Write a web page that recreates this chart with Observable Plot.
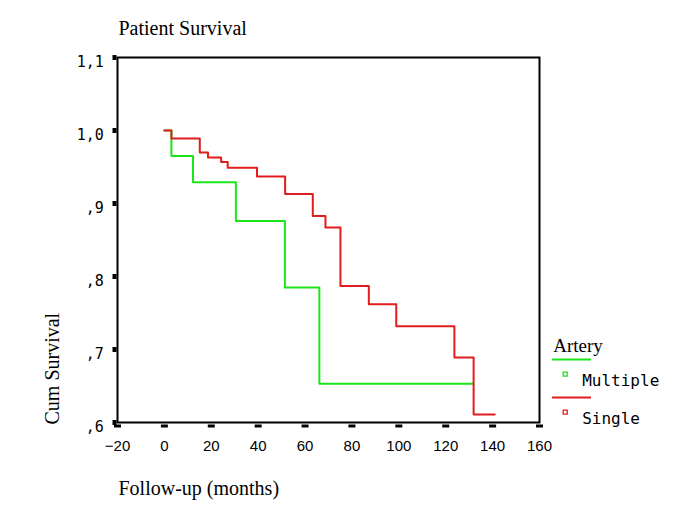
<!DOCTYPE html>
<html><head><meta charset="utf-8">
<script src="https://cdn.jsdelivr.net/npm/d3@7"></script>
<script src="https://cdn.jsdelivr.net/npm/@observablehq/plot@0.6"></script>
<style>body{margin:0;background:#fff}</style>
</head><body><div id="chart"></div>
<script>
// Data
const multipleTime = [0, 3, 12.2, 30.5, 51.4, 66.1, 131.7];
const multipleSurv = [1.0, 0.965, 0.929, 0.876, 0.785, 0.653, 0.653];
const singleTime = [0, 3, 15.1, 18.6, 24.2, 27.0, 39.5, 51.5, 63.3, 68.7, 75.1, 87.2, 98.9, 123.7, 131.9, 140.9];
const singleSurv = [1.0, 0.989, 0.970, 0.963, 0.957, 0.949, 0.937, 0.913, 0.883, 0.867, 0.787, 0.762, 0.732, 0.689, 0.611, 0.611];
const seriesNames = ["Multiple", "Single"];
const seriesColors = ["#18e618", "#e01c1c"];
const xTicks = [-20, 0, 20, 40, 60, 80, 100, 120, 140, 160];
const xTickLabels = ["\u221220", "0", "20", "40", "60", "80", "100", "120", "140", "160"];
const yTicks = [0.6, 0.7, 0.8, 0.9, 1.0, 1.1];
const yTickLabels = [",6", ",7", ",8", ",9", "1,0", "1,1"];
const titleText = "Patient Survival";
const xTitle = "Follow-up (months)";
const yTitle = "Cum Survival";
const legendTitle = "Artery";

const series = [
  multipleTime.map((t, i) => ({t, s: multipleSurv[i], series: seriesNames[0]})),
  singleTime.map((t, i) => ({t, s: singleSurv[i], series: seriesNames[1]}))
];

const xDash = {draw(ctx) { ctx.rect(-3.5, -1.5, 7, 3); }};
const ySquare = {draw(ctx) { ctx.rect(-2, -2.5, 4, 5); }};
const legendLine = {draw(ctx) { ctx.moveTo(-19.5, 0); ctx.lineTo(19.5, 0); }};
const legendSquare = {draw(ctx) { ctx.rect(-2, -2, 4, 4); }};

const serif = "Liberation Serif, Times New Roman, serif";
const mono = "DejaVu Sans Mono, monospace";
const sans = "Liberation Sans, Arial, sans-serif";

const legendMarks = seriesNames.flatMap((name, i) => [
  Plot.dot([name], {frameAnchor: "bottom-right", dx: 32, dy: -63 + i * 38, symbol: legendLine, stroke: seriesColors[i], strokeWidth: 2, fill: "none"}),
  Plot.dot([name], {frameAnchor: "bottom-right", dx: 25.7, dy: -48.3 + i * 38, symbol: legendSquare, stroke: seriesColors[i], strokeWidth: 1.3, fill: "white"}),
  Plot.text([name], {frameAnchor: "bottom-right", text: d => d, dx: 42.7, dy: -36.3 + i * 37.5, textAnchor: "start", lineAnchor: "bottom", fontFamily: mono, fontSize: 16, fill: "black"})
]);

const chart = Plot.plot({
  width: 685,
  height: 513,
  marginLeft: 117,
  marginRight: 146,
  marginTop: 57,
  marginBottom: 91,
  x: {domain: [-20, 160], axis: null},
  y: {domain: [0.6, 1.1], axis: null},
  style: {background: "white"},
  marks: [
    Plot.frame({stroke: "black", strokeWidth: 2}),
    ...series.map((data, i) => Plot.line(data, {x: "t", y: "s", curve: "step-after", stroke: seriesColors[i], strokeWidth: 2})),
    Plot.dot(xTicks, {x: d => d, frameAnchor: "bottom", dy: 3.5, symbol: xDash, fill: "black", stroke: "none"}),
    Plot.text(xTicks, {x: d => d, text: (d, i) => xTickLabels[i], frameAnchor: "bottom", dy: 28.7, lineAnchor: "bottom", fontFamily: sans, fontSize: 15, fill: "black"}),
    Plot.dot(yTicks, {y: d => d, frameAnchor: "left", dx: -3, symbol: ySquare, fill: "black", stroke: "none"}),
    Plot.text(yTicks, {y: d => d, text: (d, i) => yTickLabels[i], frameAnchor: "left", dx: -13.7, dy: 4.5, textAnchor: "end", fontFamily: mono, fontSize: 15, fill: "black"}),
    Plot.text([titleText], {frameAnchor: "top-left", text: d => d, dx: 1, dy: -23, textAnchor: "start", lineAnchor: "bottom", fontFamily: serif, fontSize: 20, fill: "black"}),
    Plot.text([xTitle], {frameAnchor: "bottom-left", text: d => d, dx: 1, dy: 72, textAnchor: "start", lineAnchor: "bottom", fontFamily: serif, fontSize: 20, fill: "black"}),
    Plot.text([yTitle], {frameAnchor: "bottom-left", text: d => d, dx: -58.5, dy: 2, rotate: -90, textAnchor: "start", lineAnchor: "bottom", fontFamily: serif, fontSize: 20, fill: "black"}),
    Plot.text([legendTitle], {frameAnchor: "bottom-right", text: d => d, dx: 13.7, dy: -70.3, textAnchor: "start", lineAnchor: "bottom", fontFamily: serif, fontSize: 19, fill: "black"}),
    ...legendMarks
  ]
});
document.getElementById("chart").appendChild(chart);
</script>
</body></html>
